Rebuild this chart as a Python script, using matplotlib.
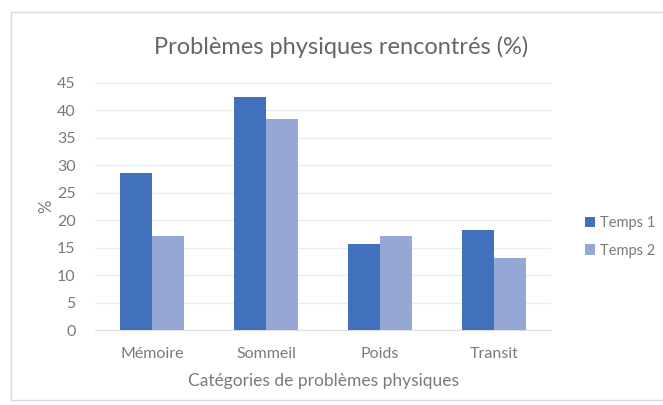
import matplotlib
matplotlib.use("Agg")
import matplotlib.pyplot as plt
import numpy as np
from matplotlib.patches import Rectangle

categories = ["Mémoire", "Sommeil", "Poids", "Transit"]
temps1 = [28.6, 42.4, 15.6, 18.2]
temps2 = [17.2, 38.5, 17.2, 13.1]
series_names = ["Temps 1", "Temps 2"]
yticks = [0, 5, 10, 15, 20, 25, 30, 35, 40, 45]

plt.rcParams['font.family'] = ['Lato', 'DejaVu Sans']
txt = '#7a7a7a'

fig = plt.figure(figsize=(6.63, 4.05), dpi=100)
fig.patch.set_facecolor('white')
fig.patches.append(Rectangle((11/663, 1-400/405), 1.0, (400-12)/405,
                             transform=fig.transFigure, fill=False,
                             edgecolor='#d9d9d9', linewidth=1.0))

ax = fig.add_axes([95/663, 1-330/405, (551-95)/663, (330-83)/405])
x = np.arange(len(categories))
w = 0.285
ax.bar(x - w/2, temps1, w, color='#4170bc', label=series_names[0], zorder=3)
ax.bar(x + w/2, temps2, w, color='#94a7d5', label=series_names[1], zorder=3)

ax.set_xlim(-0.5, len(categories) - 0.5)
ax.set_ylim(0, 45)
ax.set_yticks(yticks)
ax.set_xticks(x)
ax.set_xticklabels(categories, fontsize=11.5)
ax.yaxis.grid(True, color='#ececec', linewidth=1.0, zorder=0)
for s in ['top', 'right', 'left']:
    ax.spines[s].set_visible(False)
ax.spines['bottom'].set_color('#e0e0e0')
ax.tick_params(axis='both', length=0, colors=txt)
ax.tick_params(axis='y', pad=14, labelsize=11.5)
ax.tick_params(axis='x', pad=12)

ax.set_ylabel('%', color=txt, fontsize=12, labelpad=2)
ax.set_xlabel('Catégories de problèmes physiques', color=txt, fontsize=12.5, labelpad=9)
fig.text(341/663, 1-47/405, 'Problèmes physiques rencontrés (%)', ha='center', va='center',
         color='#666666', fontsize=17)

leg = fig.legend(loc='center left', bbox_to_anchor=(572/663, 1-237/405), frameon=False,
                 fontsize=10.5, labelcolor=txt, handlelength=0.7, handleheight=0.7,
                 handletextpad=0.3, labelspacing=0.9)

fig.savefig('out.png', dpi=100)
